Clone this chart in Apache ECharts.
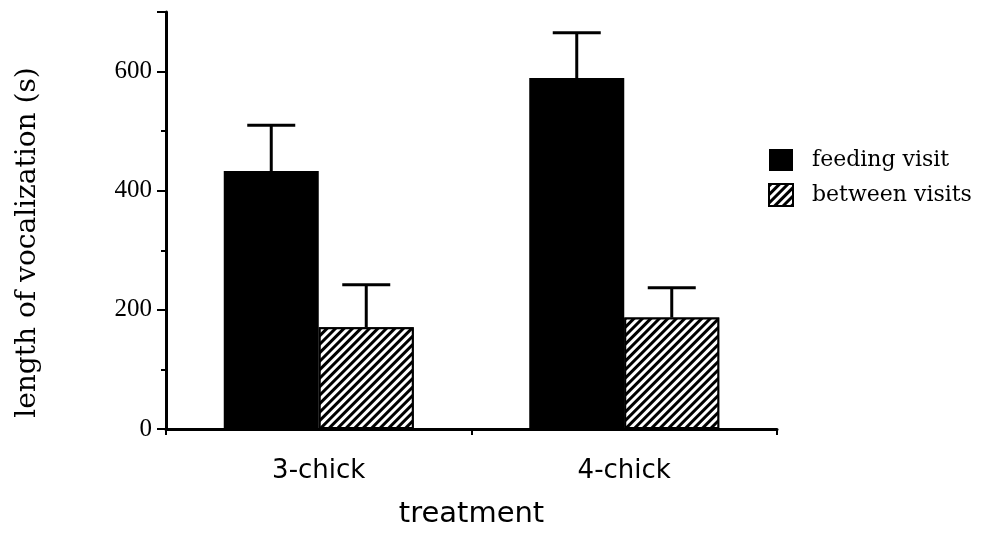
<!DOCTYPE html>
<html><head><meta charset="utf-8">
<script src="https://cdn.jsdelivr.net/npm/echarts@6/dist/echarts.min.js"></script>
<style>html,body{margin:0;padding:0;background:#fff}#c{width:998px;height:534px}</style>
</head><body><div id="c"></div>
<script>
const categories = ['3-chick', '4-chick'];
const feedingVisit = [433, 589];
const feedingErr = [77, 76];
const betweenVisits = [171, 187];
const betweenErr = [71, 50];
const yTicks = [0, 200, 400, 600];

const BAR_W = 95;
const SERIF = '"DejaVu Serif", "Liberation Serif", serif';
const TSERIF = '"Liberation Serif", serif';
const SANS = '"DejaVu Sans", sans-serif';

function errSeries(name, vals, errs, offset) {
  return {
    type: 'custom', name: name + ' err', silent: true, z: 5,
    data: categories.map((c, i) => [i, vals[i], vals[i] + errs[i]]),
    renderItem: function (params, api) {
      const base = api.coord([api.value(0), api.value(1)]);
      const top = api.coord([api.value(0), api.value(2)]);
      const x = base[0] + offset;
      const cap = 24;
      return { type: 'group', children: [
        { type: 'line', shape: { x1: x, y1: base[1], x2: x, y2: top[1] }, style: { stroke: '#000', lineWidth: 3 } },
        { type: 'line', shape: { x1: x - cap, y1: top[1], x2: x + cap, y2: top[1] }, style: { stroke: '#000', lineWidth: 3 } }
      ]};
    }
  };
}

const chart = echarts.init(document.getElementById('c'), null, { renderer: 'canvas' });
chart.setOption({
  animation: false,
  backgroundColor: '#fff',
  grid: { left: 166, right: 221, top: 12, bottom: 100, containLabel: false },
  legend: {
    orient: 'vertical', left: 763, top: 144, itemWidth: 24, itemHeight: 22, itemGap: 12, icon: 'rect',
    textStyle: { fontFamily: SERIF, fontSize: 22, color: '#000', padding: [0, 0, 0, 14] },
    data: ['feeding visit', 'between visits']
  },
  xAxis: {
    type: 'category', data: categories,
    name: 'treatment', nameLocation: 'middle', nameGap: 71,
    nameTextStyle: { fontFamily: SANS, fontSize: 29, color: '#000' },
    axisLine: { lineStyle: { color: '#000', width: 3 } },
    axisTick: { show: true, alignWithLabel: false, length: 6, lineStyle: { color: '#000', width: 2 } },
    axisLabel: { fontFamily: SANS, fontSize: 26, color: '#000', margin: 29 }
  },
  yAxis: {
    type: 'value', min: 0, max: 700, interval: 200,
    name: 'length of vocalization (s)', nameLocation: 'middle', nameGap: 124, nameRotate: 90,
    nameTextStyle: { fontFamily: SERIF, fontSize: 28, color: '#000', padding: [0, 44, 0, 0] },
    axisLine: { show: true, lineStyle: { color: '#000', width: 3 } },
    axisTick: { show: true, length: 9, lineStyle: { color: '#000', width: 2 } },
    minorTick: { show: true, splitNumber: 2, length: 5, lineStyle: { color: '#000', width: 2 } },
    splitLine: { show: false },
    axisLabel: { fontFamily: TSERIF, fontSize: 25, color: '#000', margin: 14,
      formatter: v => yTicks.includes(v) ? String(v) : '' }
  },
  series: [
    { name: 'feeding visit', type: 'bar', data: feedingVisit, barWidth: BAR_W, barGap: '0%',
      itemStyle: { color: '#000' } },
    { name: 'between visits', type: 'bar', data: betweenVisits, barWidth: BAR_W, barGap: '0%',
      itemStyle: { color: '#fff', borderColor: '#000', borderWidth: 2,
        decal: { symbol: 'rect', symbolSize: 1, dashArrayX: [1, 0], dashArrayY: [2.2, 3], rotation: -Math.PI / 4, color: '#000', backgroundColor: '#fff' } } },
    errSeries('feeding visit', feedingVisit, feedingErr, -BAR_W / 2),
    errSeries('between visits', betweenVisits, betweenErr, BAR_W / 2)
  ]
});
</script></body></html>
